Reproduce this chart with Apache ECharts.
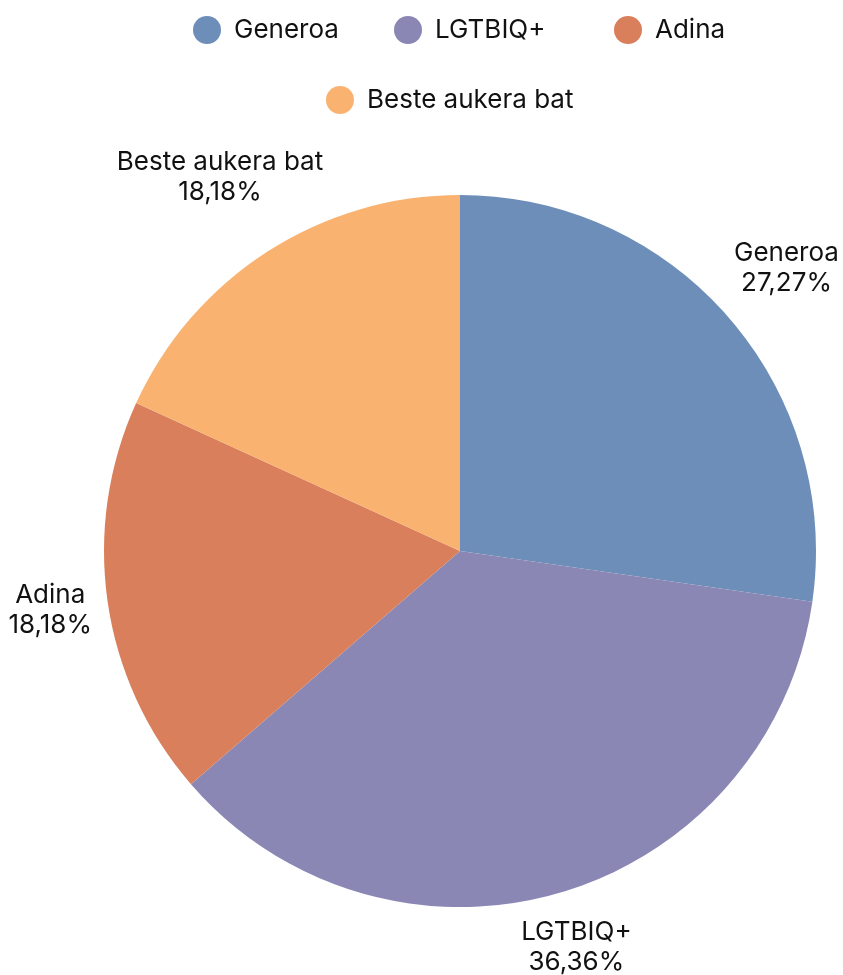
<!DOCTYPE html>
<html>
<head>
<meta charset="utf-8">
<script src="https://cdn.jsdelivr.net/npm/echarts@6/dist/echarts.min.js"></script>
<style>html,body{margin:0;padding:0;background:#fff}#c{width:843px;height:975px}</style>
</head>
<body>
<div id="c"></div>
<script>
const categories = ['Generoa', 'LGTBIQ+', 'Adina', 'Beste aukera bat'];
const values = [3, 4, 2, 2];
const colors = ['#6C8EB8', '#8A87B5', '#D97F5C', '#F9B26F'];
const labelLengths = [76, 57, 58, 88];
const legendLeft = [188, 389, 609, 321];
const legendTop = [11, 11, 11, 81];

const total = values.reduce((a, b) => a + b, 0);
const chart = echarts.init(document.getElementById('c'));
const font = 'Inter, sans-serif';
chart.setOption({
  color: colors,
  legend: categories.map((c, i) => ({
    data: [c], left: legendLeft[i], top: legendTop[i],
    icon: 'circle', itemWidth: 28, itemHeight: 28,
    textStyle: { fontFamily: font, fontSize: 26, color: '#111', padding: [0, 0, 0, 8] },
    selectedMode: false
  })),
  series: [{
    type: 'pie',
    center: [460, 551],
    radius: 356,
    startAngle: 90,
    avoidLabelOverlap: false,
    data: categories.map((c, i) => ({ name: c, value: values[i], labelLine: { length: labelLengths[i] } })),
    label: {
      position: 'outside',
      fontFamily: font, fontSize: 26, color: '#111', lineHeight: 30,
      distanceToLabelLine: 0,
      formatter: p => p.name + '\n' + (p.value / total * 100).toFixed(2).replace('.', ',') + '%'
    },
    labelLine: { show: false, length: 62, length2: 0 },
    labelLayout: { align: 'center', verticalAlign: 'middle' },
    emphasis: { disabled: true }
  }]
});
</script>
</body>
</html>
